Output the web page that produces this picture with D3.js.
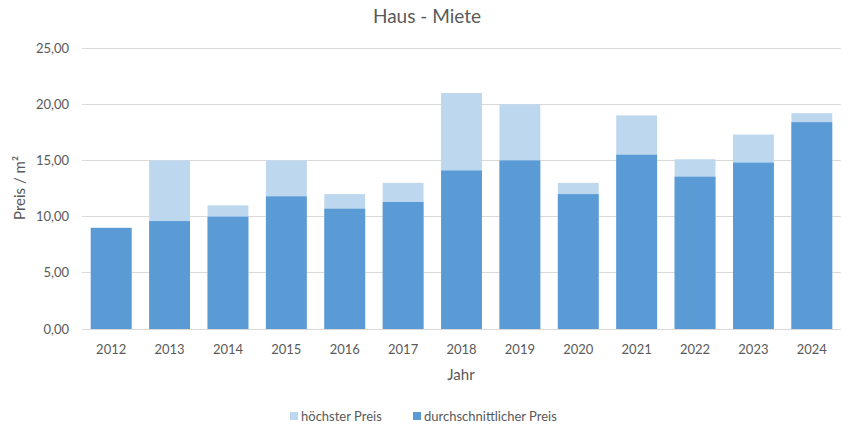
<!DOCTYPE html>
<html><head><meta charset="utf-8">
<script src="https://cdn.jsdelivr.net/npm/d3@7"></script>
<style>body{margin:0;background:#fff;} text{font-family:Lato,"Open Sans",sans-serif;fill:#595959;}</style>
</head><body><svg id="c" width="855" height="428"></svg>
<script>
const years = ["2012","2013","2014","2015","2016","2017","2018","2019","2020","2021","2022","2023","2024"];
const hoechster = [9.0,15.0,11.0,15.0,12.0,13.0,21.0,20.0,13.0,19.0,15.1,17.3,19.2];
const durchschnitt = [9.0,9.6,10.0,11.8,10.7,11.3,14.1,15.0,12.0,15.5,13.55,14.8,18.4];
const yTicks = [0,5,10,15,20,25];

const svg = d3.select("#c");
const L=82,R=841,T=48,B=329;
const x = d3.scaleBand().domain(years).range([L,R]).paddingInner(0.3).paddingOuter(0.15);
const y = d3.scaleLinear().domain([0,25]).range([B,T]);
const fmt = v => d3.format(".2f")(v).replace(".",",");

svg.append("g").selectAll("line").data(yTicks).join("line")
  .attr("x1",L).attr("x2",R).attr("y1",d=>y(d)).attr("y2",d=>y(d))
  .attr("stroke","#d9d9d9").attr("stroke-width",1).attr("shape-rendering","crispEdges");

svg.append("g").selectAll("text").data(yTicks).join("text")
  .attr("x",69).attr("y",d=>y(d)).attr("dy","0.35em").attr("text-anchor","end")
  .attr("font-size",13).text(fmt);

svg.append("g").selectAll("rect").data(years).join("rect")
  .attr("x",d=>x(d)).attr("width",x.bandwidth())
  .attr("y",(d,i)=>y(hoechster[i])).attr("height",(d,i)=>B-y(hoechster[i]))
  .attr("fill","#bdd7ee");
svg.append("g").selectAll("rect").data(years).join("rect")
  .attr("x",d=>x(d)).attr("width",x.bandwidth())
  .attr("y",(d,i)=>y(durchschnitt[i])).attr("height",(d,i)=>B-y(durchschnitt[i]))
  .attr("fill","#5b9bd5");

svg.append("g").selectAll("text").data(years).join("text")
  .attr("x",d=>x(d)+x.bandwidth()/2).attr("y",354).attr("text-anchor","middle")
  .attr("font-size",13).text(d=>d);

svg.append("text").attr("x",427).attr("y",23).attr("text-anchor","middle").attr("font-size",19).text("Haus - Miete");
svg.append("text").attr("x",461).attr("y",380).attr("text-anchor","middle").attr("font-size",15).text("Jahr");
svg.append("text").attr("transform","translate(25,188) rotate(-90)").attr("text-anchor","middle").attr("font-size",15).text("Preis / m²");

const leg = [["höchster Preis","#bdd7ee",290],["durchschnittlicher Preis","#5b9bd5",413]];
const lg = svg.append("g");
leg.forEach(([t,c,xx])=>{
  lg.append("rect").attr("x",xx).attr("y",412).attr("width",8).attr("height",8).attr("fill",c);
  lg.append("text").attr("x",xx+11).attr("y",421).attr("font-size",13).text(t);
});
</script></body></html>
